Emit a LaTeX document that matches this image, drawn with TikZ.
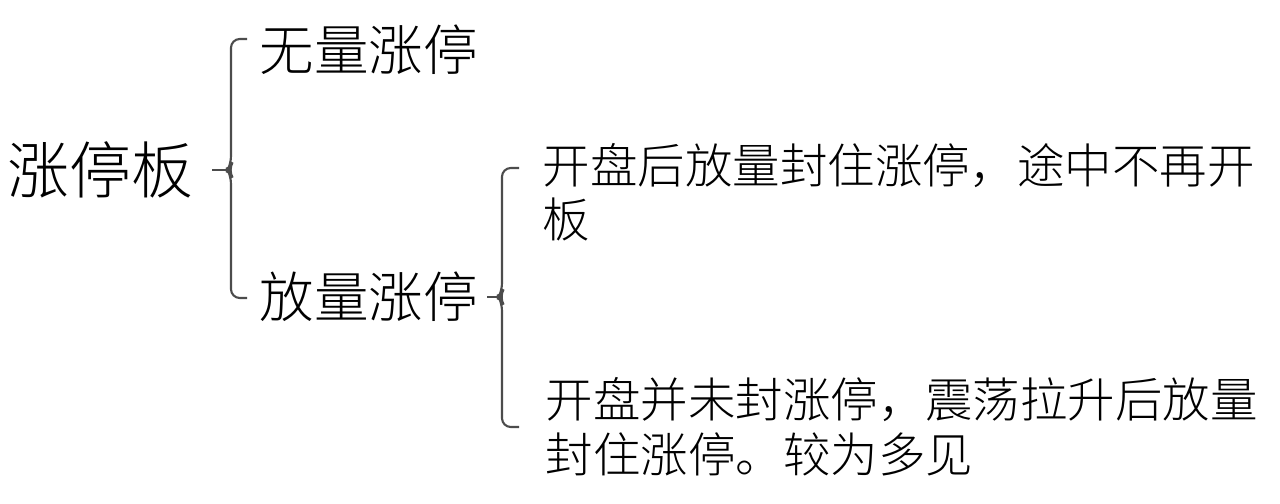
\documentclass[tikz,border=0pt]{standalone}
\usepackage{fontspec}
\setmainfont{Noto Sans CJK SC Light}
\usetikzlibrary{positioning}
\tikzset{
    brace/.style={draw=black!70, line width=0.6pt, rounded corners=2.5pt},
    lbl/.style={inner sep=0pt, anchor=base west, align=left}
}

\begin{document}
\begin{tikzpicture}[x=0.01cm, y=-0.01cm]
    \useasboundingbox[fill=white] (0, 0) rectangle (1280, 504);
    \node[lbl, font=\fontsize{17.6}{20}\selectfont] (root) at (7, 194) {涨停板};
    \node[lbl, font=\fontsize{15.5}{18}\selectfont] (wl) at (259, 71) {无量涨停};
    \node[lbl, font=\fontsize{15.5}{18}\selectfont] (fl) at (259, 318) {放量涨停};
    \node[lbl, font=\fontsize{13.5}{15.4}\selectfont] (kp) at (542, 238) {开盘后放量封住涨停，途中不再开\\板};
    \node[lbl, font=\fontsize{13.5}{15.4}\selectfont] (zd) at (545, 472) {开盘并未封涨停，震荡拉升后放量\\封住涨停。较为多见};
    \begin{scope}
        \coordinate (t1) at (212, 170);
        \coordinate (c1) at (228, 170);
        \draw[brace] (t1) -- (c1);
        \draw[brace] (247, 39) -| (231, 165) -- (c1) -- (231, 175) |- (247, 298);
    \end{scope}
    \begin{scope}
        \coordinate (t2) at (487, 297);
        \coordinate (c2) at (499, 297);
        \draw[brace] (t2) -- (c2);
        \draw[brace] (519, 168) -| (502, 292) -- (c2) -- (502, 302) |- (519, 427);
    \end{scope}
\end{tikzpicture}
\end{document}
